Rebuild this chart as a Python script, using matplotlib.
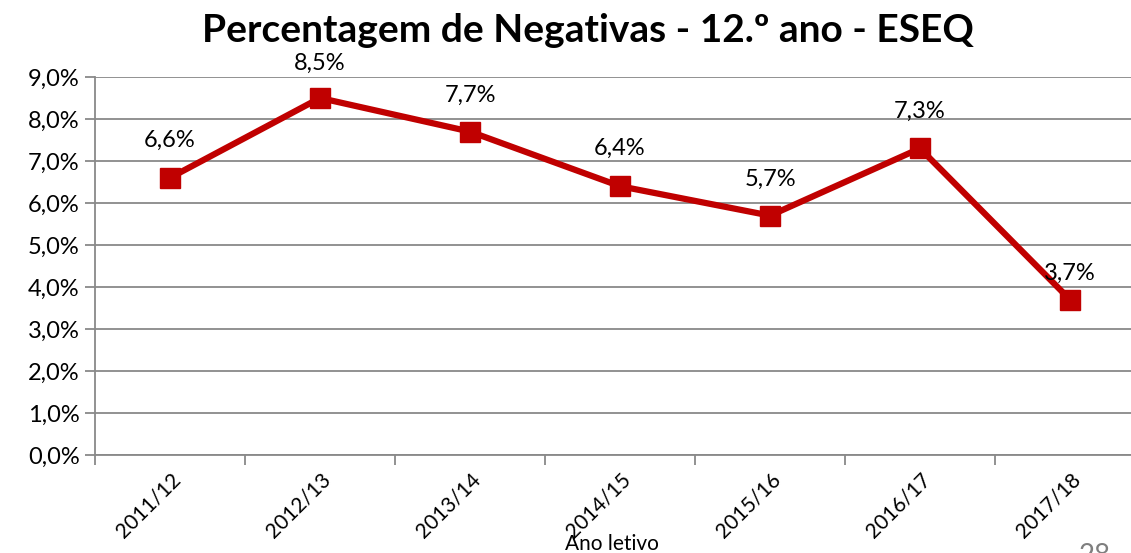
import numpy as np
import matplotlib.pyplot as plt
from matplotlib.ticker import FuncFormatter

# Dados
anos = ["2011/12", "2012/13", "2013/14", "2014/15", "2015/16", "2016/17", "2017/18"]
negativas = [6.6, 8.5, 7.7, 6.4, 5.7, 7.3, 3.7]
label_dy = [27, 25, 26, 27, 26, 27, 19]  # deslocamento dos rótulos (pt)

cor = "#C00000"
cinza = "#898989"
plt.rcParams['font.family'] = ['Lato', 'DejaVu Sans']

fig = plt.figure(figsize=(11.31, 5.53), dpi=100)
ax = fig.add_axes([95 / 1131, 98 / 553, 1050 / 1131, 378 / 553])

x = np.arange(len(anos))
ax.plot(x, negativas, color=cor, lw=4.5, marker='s', ms=15, mfc=cor, mec=cor, zorder=3)

for xi, v, dy in zip(x, negativas, label_dy):
    ax.annotate(f"{v:.1f}%".replace('.', ','), (xi, v), xytext=(0, dy),
                textcoords='offset points', ha='center', va='center',
                fontsize=17, color='black', annotation_clip=False, zorder=4)

ax.set_xlim(-0.5, len(anos) - 0.5)
ax.set_ylim(0, 9)
ax.set_yticks(np.arange(0, 9.5, 1))
ax.yaxis.set_major_formatter(FuncFormatter(lambda v, p: f"{v:.1f}%".replace('.', ',')))
ax.grid(axis='y', color=cinza, lw=1.3)
ax.set_axisbelow(True)

# ticks entre categorias, rótulos no centro
ax.set_xticks(x - 0.5)
ax.set_xticklabels([])
ax.set_xticks(x, minor=True)
ax.set_xticklabels(anos, minor=True, rotation=45, ha='right', va='top',
                   rotation_mode='anchor', fontsize=15)
ax.tick_params(axis='x', which='minor', length=0, pad=10)
ax.tick_params(axis='x', which='major', length=7, width=1.3, color=cinza)
ax.tick_params(axis='y', length=7, width=1.3, color=cinza, labelsize=17, pad=4)

for s in ['top', 'right']:
    ax.spines[s].set_visible(False)
for s in ['left', 'bottom']:
    ax.spines[s].set_color(cinza)
    ax.spines[s].set_linewidth(1.3)

fig.text(0.52, 0.945, "Percentagem de Negativas - 12.º ano - ESEQ",
         ha='center', va='center', fontsize=28, fontweight='bold')
fig.text(0.541, 0.017, "Ano letivo", ha='center', va='center', fontsize=15)
fig.text(0.968, -0.005, "28", ha='center', va='center', fontsize=20, color='#7f7f7f')

fig.savefig("out.png", dpi=100)
